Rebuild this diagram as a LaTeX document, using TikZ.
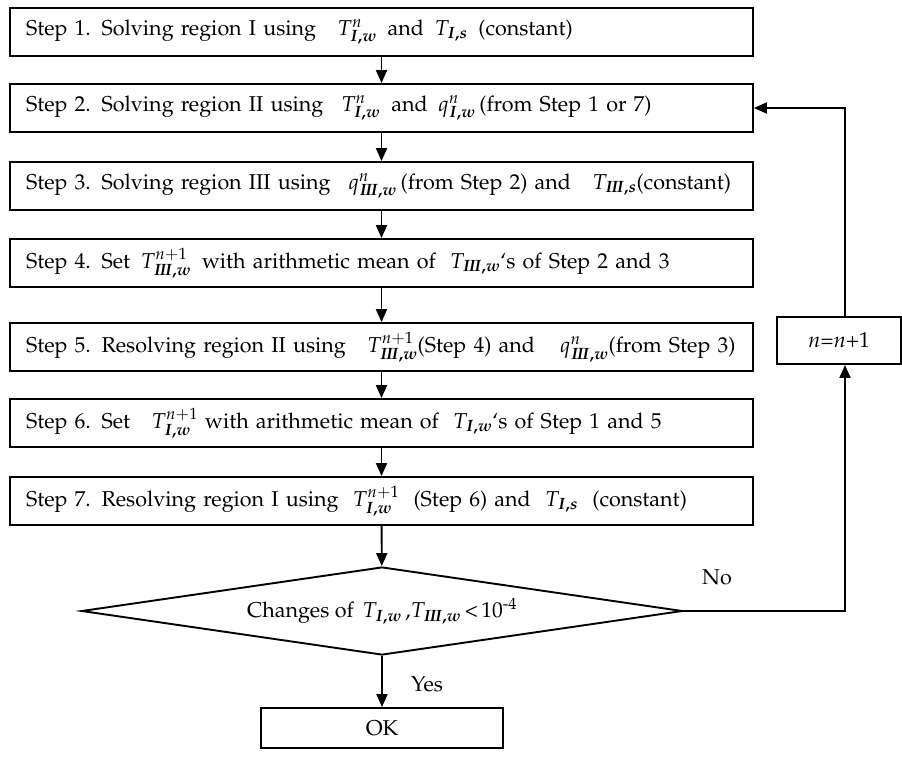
\documentclass[tikz,border=0pt]{standalone}
\usepackage[T1]{fontenc}
\usepackage{mathpazo}
\usepackage{bm}
\usetikzlibrary{shapes.geometric,arrows.meta}
\newcommand{\sIw}{\bm{I,w}}
\newcommand{\sIIIw}{\bm{I\!I\!I,w}}
\begin{document}
\begin{tikzpicture}[x=1pt,y=-1pt,line width=1.9pt,
  txt/.style={font=\fontsize{21.5}{24}\selectfont},
  stepbox/.style={draw,txt,minimum width=743pt,minimum height=48pt,text width=711pt,inner xsep=16pt,inner ysep=0pt,align=left},
  arr/.style={-{Triangle[length=13pt,width=11pt]}}]
\useasboundingbox (0,0) rectangle (902,756);
\node[stepbox] (s1) at (381.5,32) {Step 1. Solving region I using \ \ $T^{n}_{\sIw}$ \,and \,$T_{\bm{I,s}}$ \,(constant)};
\node[stepbox] (s2) at (381.5,108) {Step 2. Solving region II using \ \,$T^{n}_{\sIw}$ \,and \,$q^{n}_{\sIw}$\,(from Step 1 or 7)};
\node[stepbox] (s3) at (381.5,186) {Step 3. Solving region III using \ \,$q^{n}_{\sIIIw}$\,(from Step 2) and \ \ $T_{\bm{I\!I\!I,s}}$(constant)};
\node[stepbox] (s4) at (381.5,263) {Step 4. Set \,$T^{n+1}_{\sIIIw}$ \,with arithmetic mean of \ $T_{\sIIIw}$`s of Step 2 and 3};
\node[stepbox] (s5) at (381.5,347) {Step 5. Resolving region II using \ \ $T^{n+1}_{\sIIIw}$(Step 4) and \ \ \,$q^{n}_{\sIIIw}$(from Step 3)};
\node[stepbox] (s6) at (381.5,423) {Step 6. Set \ \ $T^{n+1}_{\sIw}$ with arithmetic mean of \ $T_{\sIw}$`s of Step 1 and 5};
\node[stepbox] (s7) at (381.5,501) {Step 7. Resolving region I using \ $T^{n+1}_{\sIw}$ \ (Step 6) and \ $T_{\bm{I,s}}$ \ (constant)};
\node[draw,diamond,shape aspect=6.83,minimum width=601pt,minimum height=88pt,inner sep=0pt,txt] (dia) at (382,611) {Changes of \,$T_{\sIw}$\,,$T_{\sIIIw}$\,<\,10\textsuperscript{-4}};
\node[draw,txt,minimum width=242pt,minimum height=40pt,inner sep=0pt] (ok) at (382,728) {OK};
\node[draw,txt,minimum width=124pt,minimum height=47pt,inner sep=0pt] (nb) at (839,340.5) {$n$=$n$+1};
\node[txt] (no) at (717,577) {No};
\node[txt] (yes) at (427,684) {Yes};
\coordinate (lx) at (845,0);
\draw[arr] (s1) -- (s2);
\draw[arr] (s2) -- (s3);
\draw[arr] (s3) -- (s4);
\draw[arr] (s4) -- (s5);
\draw[arr] (s5) -- (s6);
\draw[arr] (s6) -- (s7);
\draw[arr] (s7) -- (dia);
\draw[arr] (dia) -- (ok);
\draw[arr] (dia.east) -- (dia.east -| lx) -- (nb.south -| lx);
\draw[arr] (nb.north -| lx) |- (s2.east);
\end{tikzpicture}
\end{document}
